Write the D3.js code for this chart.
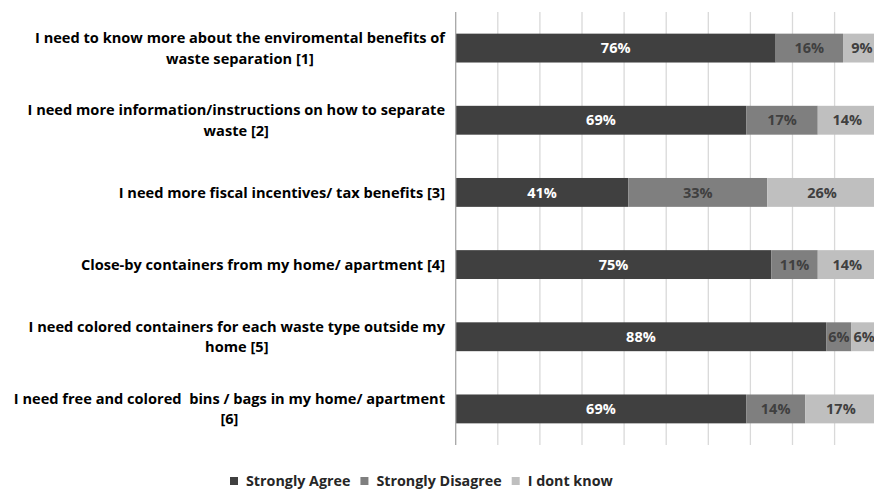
<!DOCTYPE html>
<html><head><meta charset="utf-8">
<script src="https://cdn.jsdelivr.net/npm/d3@7"></script>
<style>body{margin:0;background:#fff}svg{display:block}text{font-family:"Open Sans",sans-serif;font-weight:bold;white-space:pre}</style>
</head><body>
<script>
const categories = [
  ["I need to know more about the enviromental benefits of","waste separation [1]"],
  ["I need more information/instructions on how to separate","waste [2]"],
  ["I need more fiscal incentives/ tax benefits [3]"],
  ["Close-by containers from my home/ apartment [4]"],
  ["I need colored containers for each waste type outside my","home [5]"],
  ["I need free and colored  bins / bags in my home/ apartment","[6]"]
];
const seriesNames = ["Strongly Agree","Strongly Disagree","I dont know"];
const stronglyAgree = [76,69,41,75,88,69];
const stronglyDisagree = [16,17,33,11,6,14];
const dontKnow = [9,14,26,14,6,17];
const xTicks = [0,10,20,30,40,50,60,70,80,90,100];
const colors = ["#404040","#7f7f7f","#bfbfbf"];
const labelColors = ["#ffffff","#404040","#404040"];

const W=874,H=490;
const svg=d3.select("body").append("svg").attr("width",W).attr("height",H);
const x=d3.scaleLinear().domain([0,100]).range([455.7,876.7]);
const y=d3.scaleBand().domain(d3.range(categories.length)).range([12,445]).paddingInner(0.6).paddingOuter(0.3);

svg.append("g").selectAll("line").data(xTicks.slice(1)).join("line")
  .attr("x1",d=>x(d)).attr("x2",d=>x(d)).attr("y1",12).attr("y2",445)
  .attr("stroke","#d9d9d9").attr("stroke-width",1.3);

const rows = categories.map((c,i)=>({i,vals:[stronglyAgree[i],stronglyDisagree[i],dontKnow[i]]}));
const segs=[];
rows.forEach(r=>{let acc=0;r.vals.forEach((v,k)=>{segs.push({i:r.i,k,v,x0:acc,x1:acc+v});acc+=v;});});

svg.append("g").selectAll("rect").data(segs).join("rect")
  .attr("x",d=>x(d.x0)).attr("width",d=>x(d.x1)-x(d.x0))
  .attr("y",d=>y(d.i)).attr("height",y.bandwidth())
  .attr("fill",d=>colors[d.k]);

svg.append("g").selectAll("text").data(segs).join("text")
  .attr("x",d=>(x(d.x0)+x(d.x1))/2).attr("y",d=>y(d.i)+y.bandwidth()/2)
  .attr("dy","0.36em").attr("text-anchor","middle")
  .attr("font-size",14.5).attr("fill",d=>labelColors[d.k])
  .text(d=>d.v+"%");

svg.append("line").attr("x1",x(0)).attr("x2",x(0)).attr("y1",12).attr("y2",445)
  .attr("stroke","#a6a6a6").attr("stroke-width",1.3);

const lg=svg.append("g");
categories.forEach((lines,i)=>{
  const cy=y(i)+y.bandwidth()/2;
  const g=lg.append("g");
  const n=lines.length, lh=20.5;
  const ts=lines.map((t,j)=>g.append("text").attr("font-size",14.6).attr("fill","#000")
     .attr("y",cy+(j-(n-1)/2)*lh).attr("dy","0.36em").text(t));
  const maxW=d3.max(ts,t=>t.node().getComputedTextLength());
  ts.forEach(t=>t.attr("text-anchor","middle").attr("x",445-maxW/2));
});

const leg=svg.append("g");
let lx=230;
seriesNames.forEach((n,k)=>{
  leg.append("rect").attr("x",lx).attr("y",477).attr("width",8).attr("height",8).attr("fill",colors[k]);
  const t=leg.append("text").attr("x",lx+16).attr("y",481).attr("dy","0.36em").attr("font-size",14.3).attr("fill","#262626").text(n);
  lx+=16+t.node().getComputedTextLength()+10;
});
</script>
</body></html>
